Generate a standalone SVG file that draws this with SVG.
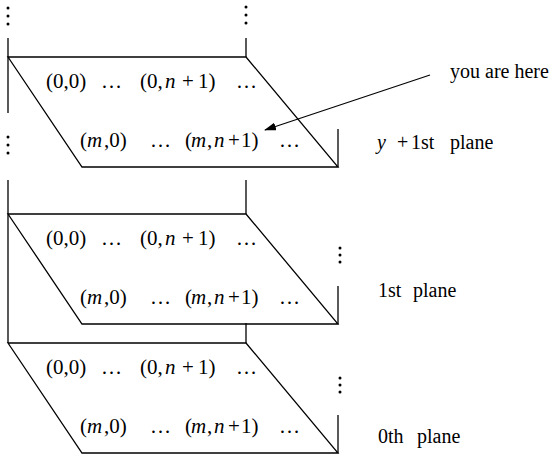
<svg xmlns="http://www.w3.org/2000/svg" width="549" height="455" viewBox="0 0 549 455">
<style>
.ln{stroke:#000;stroke-width:1.3;fill:none}
.pl{stroke:#000;stroke-width:1.3;fill:none}
.t{font-family:"Liberation Serif","Times New Roman",serif;font-size:21px;fill:#000}
.lb{font-family:"Liberation Serif","Times New Roman",serif;font-size:20px;fill:#000}
.i{font-style:italic}
.d{fill:#000}
</style>
<defs>
<marker id="ah" viewBox="0 0 12 8" refX="11" refY="4" markerWidth="12" markerHeight="8" markerUnits="userSpaceOnUse" orient="auto">
<path d="M0,0 L12,4 L0,8 Z" fill="#000"/>
</marker>
<g id="planeShape">
<path class="pl" d="M8,0 L246,0 L338,110 L82,110 Z"/>
<line class="ln" x1="338" y1="72" x2="338" y2="110"/>
<text class="t" y="31"><tspan x="46">(0,0)</tspan> <tspan x="101">…</tspan> <tspan x="140">(0,</tspan><tspan x="165" class="i">n</tspan> <tspan x="182">+</tspan><tspan x="198">1)</tspan> <tspan x="236">…</tspan></text>
<text class="t" y="90"><tspan x="80">(</tspan><tspan x="87" class="i">m</tspan><tspan x="104">,0)</tspan> <tspan x="150">…</tspan> <tspan x="185">(</tspan><tspan x="191" class="i">m</tspan><tspan x="207">,</tspan><tspan x="214" class="i">n</tspan> <tspan x="228">+</tspan><tspan x="241">1)</tspan> <tspan x="279">…</tspan></text>
</g>
</defs>
<g id="plane-y1">
<use href="#planeShape" transform="translate(0,57)"/>
</g>
<g id="plane-1">
<use href="#planeShape" transform="translate(0,214)"/>
</g>
<g id="plane-0">
<use href="#planeShape" transform="translate(0,343)"/>
</g>
<g id="connectors">
<line class="ln" x1="8" y1="38" x2="8" y2="113"/>
<line class="ln" x1="246" y1="38" x2="246" y2="57"/>
<line class="ln" x1="8" y1="180" x2="8" y2="343"/>
<line class="ln" x1="246" y1="180" x2="246" y2="214"/>
<line class="ln" x1="246" y1="323" x2="246" y2="343"/>
<line class="ln" x1="430" y1="75" x2="265" y2="130" marker-end="url(#ah)"/>
</g>
<g id="dots">
<circle class="d" cx="8" cy="8" r="1.5"/><circle class="d" cx="8" cy="16" r="1.5"/><circle class="d" cx="8" cy="24" r="1.5"/>
<circle class="d" cx="246" cy="7" r="1.5"/><circle class="d" cx="246" cy="15" r="1.5"/><circle class="d" cx="246" cy="23" r="1.5"/>
<circle class="d" cx="8" cy="137" r="1.5"/><circle class="d" cx="8" cy="145" r="1.5"/><circle class="d" cx="8" cy="153" r="1.5"/>
<circle class="d" cx="340" cy="248" r="1.5"/><circle class="d" cx="340" cy="255" r="1.5"/><circle class="d" cx="340" cy="262" r="1.5"/>
<circle class="d" cx="340" cy="378" r="1.5"/><circle class="d" cx="340" cy="385" r="1.5"/><circle class="d" cx="340" cy="392" r="1.5"/>
</g>
<g id="labels">
<text class="lb" x="450" y="78">you are here</text>
<text class="lb" y="149"><tspan x="377" class="i">y</tspan> <tspan x="397">+</tspan><tspan x="411">1st</tspan> <tspan x="450">plane</tspan></text>
<text class="lb" y="297"><tspan x="378">1st</tspan> <tspan x="413">plane</tspan></text>
<text class="lb" y="443"><tspan x="378">0th</tspan> <tspan x="417">plane</tspan></text>
</g>
</svg>
